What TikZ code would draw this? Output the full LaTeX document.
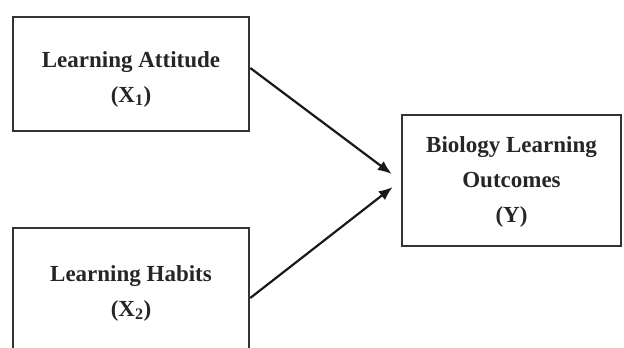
\documentclass[tikz,border=0pt]{standalone}
\usepackage{fontspec}
\setmainfont{Liberation Serif}
\usetikzlibrary{arrows.meta}
\tikzset{
  boxnode/.style={draw=black!80, line width=2.5pt, rectangle, inner sep=0pt},
  txt/.style={align=center, font=\fontsize{23}{35}\selectfont\bfseries, text=black!85},
  arr/.style={line width=2.2pt, draw=black!90, -{Latex[length=14pt,width=11pt]}}
}
\begin{document}
\begin{tikzpicture}[x=1pt,y=-1pt]
\useasboundingbox (0,0) rectangle (624,348);
\begin{scope}
\clip (0,0) rectangle (624,348);
\node[boxnode, minimum width=236pt, minimum height=114pt] (x1) at (131,74) {};
\node[boxnode, minimum width=236pt, minimum height=140pt] (x2) at (131,298) {};
\node[boxnode, minimum width=219pt, minimum height=131pt] (y) at (511.5,180.5) {};
\node[txt] (x1t) at (131,79) {Learning Attitude\\(X\textsubscript{1})};
\node[txt] (x2t) at (131,293) {Learning Habits\\(X\textsubscript{2})};
\node[txt] (yt) at (511.5,182) {Biology Learning\\Outcomes\\(Y)};
\coordinate (t1) at ([xshift=-9pt,yshift=6.5pt]y.west);
\coordinate (t2) at ([xshift=-8pt,yshift=-6.5pt]y.west);
\draw[arr] ([yshift=6pt]x1.east) -- (t1);
\draw[arr] (x2.east) -- (t2);
\end{scope}
\end{tikzpicture}
\end{document}
